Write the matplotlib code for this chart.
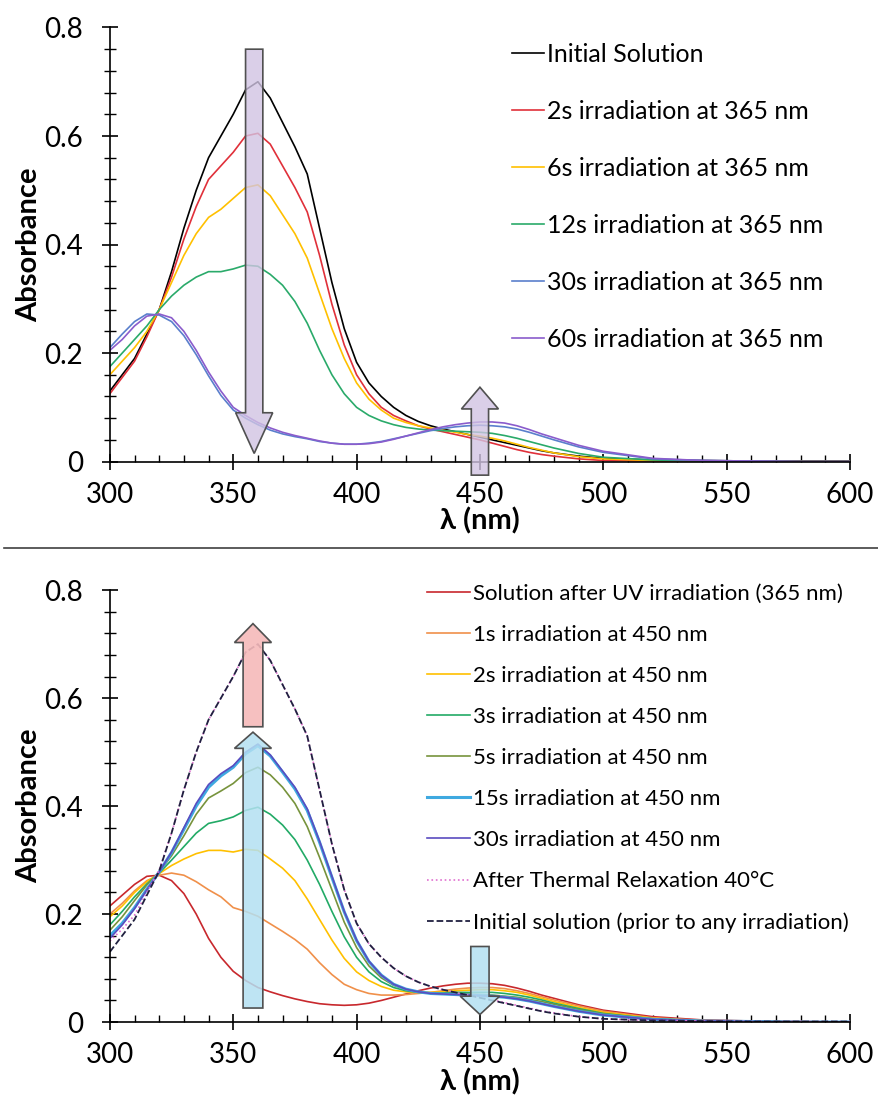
import numpy as np
import matplotlib
matplotlib.use("Agg")
import matplotlib.pyplot as plt
from matplotlib.patches import FancyArrow
from matplotlib.ticker import MultipleLocator, FuncFormatter
from matplotlib.lines import Line2D

plt.rcParams['font.family'] = ['Lato', 'DejaVu Sans']

# wavelength grid (nm)
wl = [300, 305, 310, 315, 320, 325, 330, 335, 340, 345,
      350, 355, 360, 365, 370, 375, 380, 385, 390, 395,
      400, 405, 410, 415, 420, 425, 430, 435, 440, 445,
      450, 455, 460, 465, 470, 475, 480,
      490, 500, 520, 540, 560, 580, 600]

# ---- top panel: irradiation at 365 nm ----
initial = [.13, .16, .19, .235, .28, .35, .43, .50, .56, .60,
           .64, .685, .70, .67, .625, .58, .53, .43, .33, .245,
           .183, .145, .12, .1, .085, .074, .066, .06, .055, .05,
           .045, .04, .035, .03, .025, .02, .016,
           .01, .006, .003, .002, .001, .001, .001]
uv_2s = [.125, .155, .185, .23, .28, .34, .41, .47, .52, .545,
         .57, .60, .605, .585, .545, .505, .46, .38, .29, .215,
         .16, .125, .1, .085, .075, .066, .06, .055, .05, .045,
         .04, .034, .028, .022, .017, .013, .01,
         .005, .002, .001, 0, 0, 0, 0]
uv_6s = [.16, .185, .21, .24, .28, .33, .38, .42, .45, .465,
         .485, .505, .51, .49, .455, .42, .375, .31, .245, .19,
         .145, .115, .095, .08, .072, .066, .062, .058, .054, .05,
         .047, .043, .038, .032, .026, .021, .016,
         .009, .005, .002, .001, 0, 0, 0]
uv_12s = [.175, .2, .225, .25, .28, .305, .325, .34, .35, .35,
          .355, .362, .36, .345, .325, .295, .255, .205, .16, .125,
          .1, .085, .075, .068, .063, .06, .058, .057, .056, .055,
          .054, .052, .048, .043, .037, .031, .025,
          .015, .008, .003, .001, 0, 0, 0]
uv_30s = [.21, .235, .258, .272, .27, .258, .232, .197, .158, .122,
          .095, .08, .068, .058, .051, .046, .042, .037, .034, .032,
          .032, .034, .037, .042, .047, .052, .057, .061, .064, .066,
          .067, .066, .064, .06, .054, .047, .04,
          .027, .017, .005, .002, .001, 0, 0]
uv_60s = [.205, .225, .25, .268, .272, .265, .24, .205, .165, .13,
          .1, .085, .072, .062, .054, .048, .043, .038, .034, .032,
          .032, .033, .036, .041, .047, .053, .059, .064, .068, .071,
          .073, .073, .071, .066, .059, .051, .044,
          .03, .019, .006, .002, .001, 0, 0]

top_series = [initial, uv_2s, uv_6s, uv_12s, uv_30s, uv_60s]
top_labels = ["Initial Solution", "2s irradiation at 365 nm", "6s irradiation at 365 nm",
              "12s irradiation at 365 nm", "30s irradiation at 365 nm", "60s irradiation at 365 nm"]
top_colors = ["#000000", "#e0303a", "#ffc000", "#2aaa6a", "#5a7fcc", "#8a5ccc"]

# ---- bottom panel: irradiation at 450 nm ----
after_uv = [.215, .235, .255, .27, .272, .262, .238, .2, .155, .12,
            .094, .077, .064, .056, .049, .043, .038, .034, .032, .031,
            .032, .035, .04, .046, .052, .058, .063, .067, .07, .072,
            .072, .071, .068, .063, .057, .05, .044,
            .032, .022, .01, .004, .002, .001, 0]
vis_1s = [.2, .22, .243, .262, .272, .276, .272, .26, .245, .232,
          .212, .205, .196, .182, .168, .153, .135, .11, .088, .07,
          .06, .053, .05, .05, .051, .053, .055, .058, .061, .063,
          .064, .064, .062, .058, .053, .047, .041,
          .03, .02, .008, .003, .001, 0, 0]
vis_2s = [.195, .215, .24, .26, .275, .29, .302, .312, .318, .318,
          .315, .32, .318, .302, .285, .262, .228, .19, .152, .118,
          .093, .077, .066, .059, .056, .055, .055, .056, .058, .059,
          .06, .06, .058, .055, .05, .044, .038,
          .027, .018, .007, .002, .001, 0, 0]
vis_3s = [.18, .205, .232, .256, .276, .3, .325, .35, .368, .373,
          .38, .392, .398, .385, .365, .338, .3, .255, .205, .158,
          .12, .093, .075, .064, .058, .055, .054, .054, .055, .055,
          .055, .055, .053, .05, .046, .041, .035,
          .025, .016, .006, .002, .001, 0, 0]
vis_5s = [.17, .195, .225, .254, .278, .308, .345, .385, .415, .428,
          .442, .462, .472, .458, .435, .405, .362, .305, .245, .185,
          .138, .104, .082, .068, .06, .056, .054, .053, .052, .052,
          .051, .05, .048, .046, .042, .038, .033,
          .023, .015, .006, .002, .001, 0, 0]
vis_15s = [.16, .183, .212, .246, .278, .314, .357, .4, .435, .456,
           .472, .497, .512, .493, .463, .432, .392, .333, .268, .204,
           .151, .112, .087, .07, .061, .056, .053, .052, .051, .05,
           .049, .048, .046, .043, .039, .034, .029,
           .02, .013, .005, .002, .001, 0, 0]
vis_30s = [.155, .18, .21, .245, .278, .315, .36, .405, .44, .46,
           .475, .5, .515, .495, .465, .435, .395, .335, .27, .205,
           .152, .113, .087, .07, .061, .056, .053, .052, .051, .05,
           .049, .048, .046, .043, .039, .034, .029,
           .02, .013, .005, .002, .001, 0, 0]
thermal = [.15, .172, .198, .24, .282, .35, .43, .50, .56, .60,
           .64, .685, .70, .67, .625, .58, .53, .43, .33, .245,
           .183, .145, .12, .1, .085, .074, .066, .06, .055, .05,
           .046, .041, .036, .031, .026, .021, .017,
           .01, .006, .003, .002, .001, .001, .001]
initial_b = initial

bot_series = [after_uv, vis_1s, vis_2s, vis_3s, vis_5s, vis_15s, vis_30s, thermal, initial_b]
bot_labels = ["Solution after UV irradiation (365 nm)", "1s irradiation at 450 nm",
              "2s irradiation at 450 nm", "3s irradiation at 450 nm", "5s irradiation at 450 nm",
              "15s irradiation at 450 nm", "30s irradiation at 450 nm",
              "After Thermal Relaxation 40°C", "Initial solution (prior to any irradiation)"]
bot_colors = ["#c8282d", "#f0904a", "#ffc000", "#22aa66", "#77933c", "#3fa9e0", "#5a4cc0",
              "#e070d0", "#202040"]
bot_styles = ["-", "-", "-", "-", "-", "-", "-", ":", "--"]
bot_widths = [1.2, 1.2, 1.2, 1.2, 1.2, 2.2, 1.2, 1.2, 1.3]

fig = plt.figure(figsize=(8.79, 10.99), dpi=100)
ax1 = fig.add_axes([0.125, 0.58, 0.842, 0.395])
ax2 = fig.add_axes([0.125, 0.070, 0.842, 0.393])


def style_axis(ax):
    ax.set_xlim(300, 600)
    ax.set_ylim(0, 0.8)
    for s in ["top", "right"]:
        ax.spines[s].set_visible(False)
    ax.xaxis.set_major_locator(MultipleLocator(50))
    ax.xaxis.set_minor_locator(MultipleLocator(10))
    ax.yaxis.set_major_locator(MultipleLocator(0.2))
    ax.yaxis.set_minor_locator(MultipleLocator(0.04))
    ax.yaxis.set_major_formatter(FuncFormatter(lambda v, p: "0" if abs(v) < 1e-9 else f"{v:.1f}"))
    ax.tick_params(axis="x", which="major", direction="inout", length=11, width=1.2, labelsize=20, pad=9)
    ax.tick_params(axis="x", which="minor", direction="in", length=5, width=1)
    ax.tick_params(axis="y", which="major", direction="inout", length=11, width=1.2, labelsize=20, pad=14)
    ax.tick_params(axis="y", which="minor", direction="inout", length=8, width=1)
    ax.spines["left"].set_linewidth(1.2)
    ax.spines["bottom"].set_linewidth(1.2)
    ax.set_xlabel("λ (nm)", fontsize=21, fontweight="bold", labelpad=0)
    ax.set_ylabel("Absorbance", fontsize=21, fontweight="bold", labelpad=1)


def vert_arrow(ax, x, y0, y1, w, hw, hl, color):
    ar = FancyArrow(x, y0, 0, y1 - y0, width=w, head_width=hw, head_length=hl,
                    length_includes_head=True, facecolor=color, edgecolor="#505050",
                    linewidth=1.2, clip_on=False, zorder=5)
    ax.add_patch(ar)


# top panel
style_axis(ax1)
for ys, lab, c in zip(top_series, top_labels, top_colors):
    ax1.plot(wl, ys, color=c, lw=1.2, label=lab)
vert_arrow(ax1, 358.5, 0.76, 0.015, 7, 15, 0.075, (0.82, 0.77, 0.89, 0.8))
vert_arrow(ax1, 450, -0.025, 0.137, 7, 15, 0.04, (0.82, 0.77, 0.89, 0.8))
ax1.legend(loc="upper left", bbox_to_anchor=(0.526, 0.993), frameon=False, fontsize=18,
           handlelength=1.3, handletextpad=0.1, labelspacing=1.36, borderpad=0)

# bottom panel
style_axis(ax2)
for ys, lab, c, ls, lw in zip(bot_series, bot_labels, bot_colors, bot_styles, bot_widths):
    ax2.plot(wl, ys, color=c, ls=ls, lw=lw, label=lab)
vert_arrow(ax2, 358, 0.547, 0.738, 8, 15, 0.035, (0.96, 0.73, 0.73, 0.9))
vert_arrow(ax2, 358, 0.026, 0.537, 8, 15, 0.03, (0.70, 0.88, 0.95, 0.85))
vert_arrow(ax2, 450, 0.14, 0.014, 7.4, 16, 0.034, (0.70, 0.88, 0.95, 0.85))
ax2.legend(loc="upper left", bbox_to_anchor=(0.414, 1.041), frameon=False, fontsize=16,
           handlelength=1.9, handletextpad=0.15, labelspacing=0.95, borderpad=0)

# separator between the panels
fig.add_artist(Line2D([0.005, 1.0], [0.501, 0.501], color="#404040", lw=1.2))

fig.savefig("out.png", dpi=100, facecolor="white")
